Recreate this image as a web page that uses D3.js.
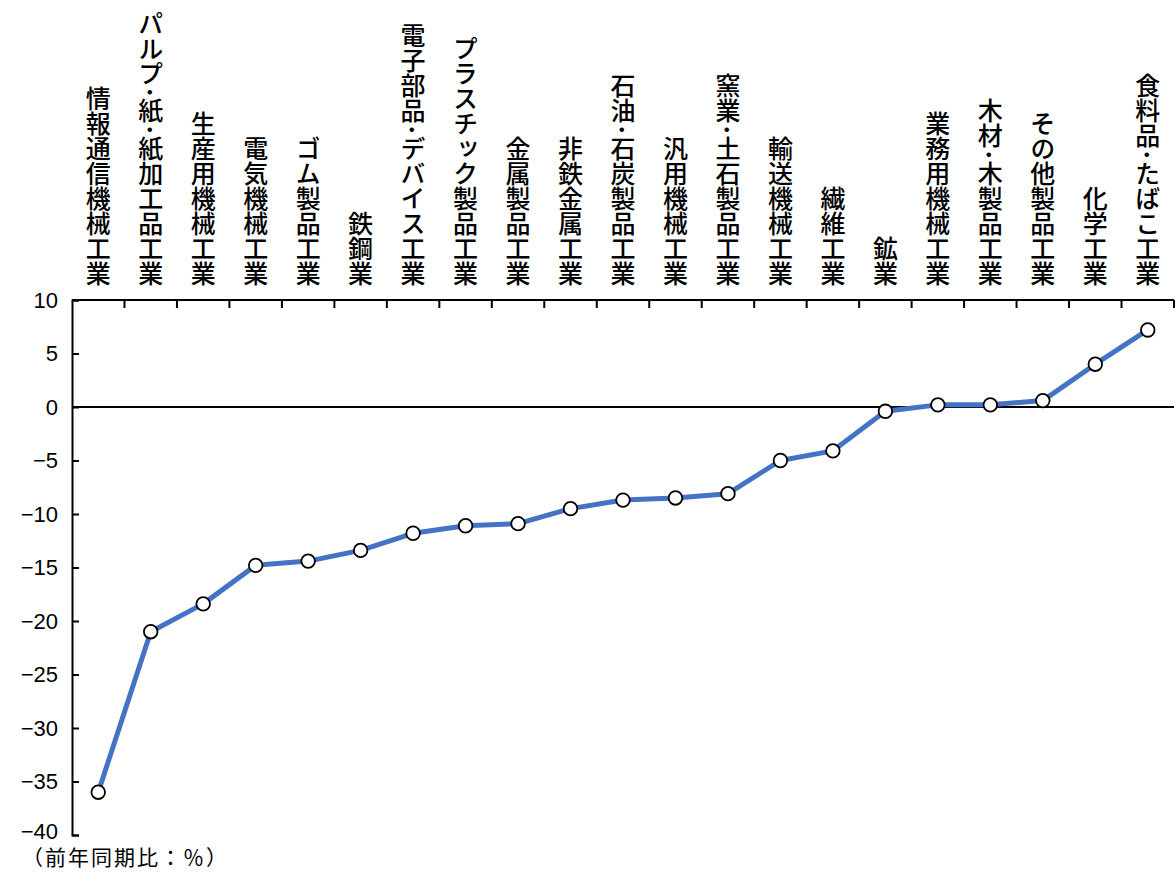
<!DOCTYPE html>
<html>
<head>
<meta charset="utf-8">
<script src="https://cdn.jsdelivr.net/npm/d3@7"></script>
<style>
  html, body { margin: 0; padding: 0; background: #fff; }
  svg { display: block; }
</style>
</head>
<body>
<svg id="chart" width="1175" height="872"></svg>
<script>
// Industries, ordered from weakest to strongest year-on-year change
const categories = [
  "情報通信機械工業",
  "パルプ･紙･紙加工品工業",
  "生産用機械工業",
  "電気機械工業",
  "ゴム製品工業",
  "鉄鋼業",
  "電子部品･デバイス工業",
  "プラスチック製品工業",
  "金属製品工業",
  "非鉄金属工業",
  "石油･石炭製品工業",
  "汎用機械工業",
  "窯業･土石製品工業",
  "輸送機械工業",
  "繊維工業",
  "鉱業",
  "業務用機械工業",
  "木材･木製品工業",
  "その他製品工業",
  "化学工業",
  "食料品･たばこ工業"
];

// Year-on-year change (%)
const values = [
  -36.0, -21.0, -18.4, -14.8, -14.4, -13.4, -11.8, -11.1, -10.9, -9.5,
  -8.7, -8.5, -8.1, -5.0, -4.1, -0.4, 0.2, 0.2, 0.6, 4.0, 7.2
];

const yTicks = [10, 5, 0, -5, -10, -15, -20, -25, -30, -35, -40];
const unitLabel = "（前年同期比：％）";

const svg = d3.select("#chart");
const plotLeft = 72, plotRight = 1174, plotTop = 300, plotBottom = 835;

const x = d3.scaleBand().domain(categories).range([plotLeft, plotRight]).padding(0);
const y = d3.scaleLinear().domain([-40, 10]).range([plotBottom, plotTop]);
const cx = d => x(d) + x.bandwidth() / 2;

// Left value axis
const yAxis = d3.axisLeft(y).tickValues(yTicks).tickSize(-7).tickPadding(14)
  .tickFormat(d => d < 0 ? "−" + Math.abs(d) : String(d));
const gy = svg.append("g").attr("transform", `translate(${plotLeft},0)`).call(yAxis);
gy.select(".domain").attr("stroke", "#000").attr("stroke-width", 2);
gy.selectAll(".tick line").attr("stroke", "#000").attr("stroke-width", 2);
gy.selectAll(".tick text")
  .attr("font-family", "'Liberation Sans', Arial, sans-serif")
  .attr("font-size", 22).attr("fill", "#000");
// lift the bottom label a touch so it clears the unit note
gy.selectAll(".tick").filter(d => d === -40).select("text").attr("dy", "0.15em");

// Top category axis with boundary ticks pointing down
const boundaries = categories.map(c => x(c)).concat([plotRight]).slice(1);
svg.append("line").attr("x1", plotLeft).attr("x2", plotRight).attr("y1", plotTop).attr("y2", plotTop)
  .attr("stroke", "#000").attr("stroke-width", 2);
svg.append("g").selectAll("line").data(boundaries).join("line")
  .attr("x1", d => d).attr("x2", d => d).attr("y1", plotTop).attr("y2", plotTop + 8)
  .attr("stroke", "#000").attr("stroke-width", 2);

// Zero line
svg.append("line").attr("x1", plotLeft).attr("x2", plotRight).attr("y1", y(0)).attr("y2", y(0))
  .attr("stroke", "#000").attr("stroke-width", 1.8);

// Vertical category labels
svg.append("g").selectAll("text").data(categories).join("text")
  .attr("x", d => cx(d)).attr("y", 286)
  .attr("text-anchor", "end")
  .style("writing-mode", "vertical-rl")
  .attr("font-family", "'Noto Sans CJK JP', sans-serif")
  .attr("font-weight", 500)
  .attr("font-size", 25).attr("fill", "#000")
  .text(d => d);

// Series line
const line = d3.line().x((d, i) => cx(categories[i])).y(d => y(d));
svg.append("path").datum(values).attr("d", line)
  .attr("fill", "none").attr("stroke", "#4472C4").attr("stroke-width", 5)
  .attr("stroke-linejoin", "round");

// Markers
svg.append("g").selectAll("circle").data(values).join("circle")
  .attr("cx", (d, i) => cx(categories[i])).attr("cy", d => y(d)).attr("r", 6.8)
  .attr("fill", "#fff").attr("stroke", "#000").attr("stroke-width", 1.8);

// Unit note
svg.append("text").attr("x", 22).attr("y", 865)
  .attr("font-family", "'Noto Sans CJK JP', sans-serif")
  .attr("font-size", 21).attr("letter-spacing", 2).attr("fill", "#000")
  .text(unitLabel);
</script>
</body>
</html>
